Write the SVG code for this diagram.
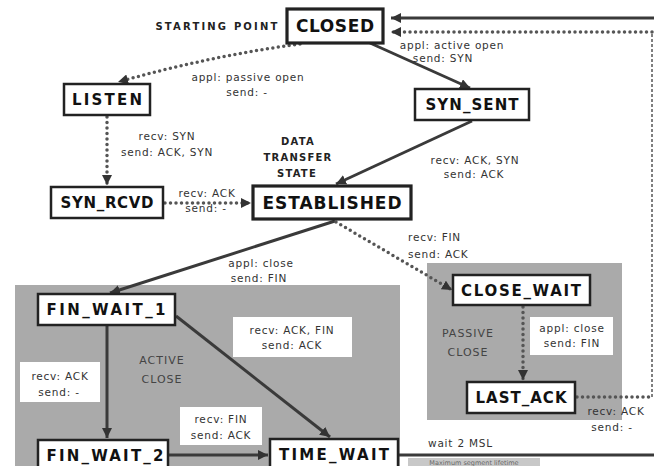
<svg xmlns="http://www.w3.org/2000/svg" width="654" height="466" viewBox="0 0 654 466">
<style>
.node rect{fill:#fff;stroke:#222;stroke-width:2.5}
.big rect{stroke-width:3.2}
.nt{font-family:"DejaVu Sans",sans-serif;font-weight:bold;font-size:15px;fill:#111;text-anchor:middle}
.big .nt{font-size:17px}
.lbl{font-family:"DejaVu Sans",sans-serif;font-size:10.5px;fill:#333;text-anchor:middle;letter-spacing:0.8px}
.lbl.st{text-anchor:start}
.cap{font-family:"DejaVu Sans",sans-serif;font-weight:bold;font-size:10px;fill:#222;text-anchor:middle;letter-spacing:1.2px}
.zone{font-family:"DejaVu Sans",sans-serif;font-size:11px;fill:#444;text-anchor:middle;letter-spacing:1px}
.solid{stroke:#3a3a3a;stroke-width:3;fill:none}
.dot{stroke:#555;stroke-width:3.5;stroke-dasharray:0 5.5;stroke-linecap:round;fill:none}
.dash{stroke:#555;stroke-width:1.5;stroke-dasharray:3 2;fill:none}
.wb{fill:#fff;stroke:none}
.gray{fill:#aaaaaa}
</style>
<defs>
<marker id="arr" markerUnits="userSpaceOnUse" markerWidth="11" markerHeight="10" refX="10" refY="5" orient="auto">
<path d="M0,0 L10,5 L0,10 Z" fill="#333" stroke="none"/>
</marker>
</defs>
<rect width="654" height="466" fill="#fff"/>
<rect class="gray" x="15" y="285" width="385" height="190"/>
<rect class="gray" x="427" y="263" width="195" height="157"/>
<text class="cap" x="217" y="30" textLength="123">STARTING POINT</text>
<text class="cap" x="298" y="145">DATA</text>
<text class="cap" x="298" y="161">TRANSFER</text>
<text class="cap" x="297" y="177">STATE</text>
<text class="zone" x="162" y="364">ACTIVE</text>
<text class="zone" x="162" y="383">CLOSE</text>
<text class="zone" x="468" y="337">PASSIVE</text>
<text class="zone" x="468" y="356">CLOSE</text>
<g id="connectors">
<path class="dot" d="M300 44 Q210 56 118 82" marker-end="url(#arr)"/>
<path class="solid" d="M370 43 L470 88" marker-end="url(#arr)"/>
<path class="dot" d="M107 117 L107 185" marker-end="url(#arr)"/>
<path class="dot" d="M165 203 L251 203" marker-end="url(#arr)"/>
<path class="solid" d="M472 121 L336 184" marker-end="url(#arr)"/>
<path class="solid" d="M335 221 L110 293" marker-end="url(#arr)"/>
<path class="dot" d="M336 222 L452 290" marker-end="url(#arr)"/>
<path class="dot" d="M523 307 L523 380" marker-end="url(#arr)"/>
<path class="dot" d="M577 397 L652 397"/>
<path class="dash" d="M652 397 L652 32"/>
<path class="dot" d="M652 32 L391 32" marker-end="url(#arr)"/>
<path class="solid" d="M107 326 L107 438" marker-end="url(#arr)"/>
<path class="solid" d="M176 316 L330 437" marker-end="url(#arr)"/>
<path class="solid" d="M169 455 L268 455" marker-end="url(#arr)"/>
<path class="solid" d="M399 455 L654 455"/>
<path class="solid" d="M654 18 L391 18" marker-end="url(#arr)"/>
<rect x="408" y="458" width="132" height="8" fill="#c8c8c8"/>
<text x="474" y="465" font-family="DejaVu Sans, sans-serif" font-size="6.5" fill="#666" text-anchor="middle">Maximum segment lifetime</text>
<text class="lbl" x="248" y="81">appl: passive open</text>
<text class="lbl" x="247" y="96">send: -</text>
<text class="lbl" x="452" y="49">appl: active open</text>
<text class="lbl" x="443" y="62">send: SYN</text>
<text class="lbl" x="167" y="140">recv: SYN</text>
<text class="lbl" x="167" y="156">send: ACK, SYN</text>
<text class="lbl" x="207" y="197">recv: ACK</text>
<text class="lbl" x="206" y="212">send: -</text>
<text class="lbl" x="475" y="164">recv: ACK, SYN</text>
<text class="lbl" x="474" y="178">send: ACK</text>
<text class="lbl st" x="408" y="241">recv: FIN</text>
<text class="lbl st" x="408" y="258">send: ACK</text>
<text class="lbl" x="261" y="267">appl: close</text>
<text class="lbl" x="259" y="282">send: FIN</text>
<rect class="wb" x="20" y="362" width="80" height="40"/>
<text class="lbl" x="60" y="380">recv: ACK</text>
<text class="lbl" x="59" y="396">send: -</text>
<rect class="wb" x="233" y="317" width="119" height="40"/>
<text class="lbl" x="292" y="334">recv: ACK, FIN</text>
<text class="lbl" x="292" y="349">send: ACK</text>
<rect class="wb" x="180" y="407" width="82" height="38"/>
<text class="lbl" x="221" y="423">recv: FIN</text>
<text class="lbl" x="221" y="439">send: ACK</text>
<rect class="wb" x="530" y="317" width="83" height="38"/>
<text class="lbl" x="572" y="332">appl: close</text>
<text class="lbl" x="572" y="347">send: FIN</text>
<text class="lbl" x="616" y="415">recv: ACK</text>
<text class="lbl" x="612" y="431">send: -</text>
<text class="lbl st" x="428" y="447">wait 2 MSL</text>
</g>
<g id="CLOSED" class="node big"><rect x="287" y="9" width="96" height="34"/><text class="nt" x="335" y="32" textLength="78">CLOSED</text></g>
<g id="LISTEN" class="node"><rect x="64" y="84" width="86" height="31"/><text class="nt" x="107" y="105" textLength="70">LISTEN</text></g>
<g id="SYN_SENT" class="node"><rect x="415" y="89" width="114" height="31"/><text class="nt" x="472" y="110" textLength="93">SYN_SENT</text></g>
<g id="SYN_RCVD" class="node"><rect x="51" y="187" width="112" height="31"/><text class="nt" x="107" y="208" textLength="93">SYN_RCVD</text></g>
<g id="ESTABLISHED" class="node big"><rect x="253" y="186" width="158" height="33"/><text class="nt" x="332" y="209" textLength="139">ESTABLISHED</text></g>
<g id="CLOSE_WAIT" class="node"><rect x="453" y="275" width="137" height="30"/><text class="nt" x="521" y="296" textLength="120">CLOSE_WAIT</text></g>
<g id="LAST_ACK" class="node"><rect x="467" y="382" width="108" height="31"/><text class="nt" x="521" y="403" textLength="91">LAST_ACK</text></g>
<g id="FIN_WAIT_1" class="node"><rect x="38" y="294" width="137" height="31"/><text class="nt" x="106" y="315" textLength="119">FIN_WAIT_1</text></g>
<g id="FIN_WAIT_2" class="node"><rect x="38" y="440" width="130" height="30"/><text class="nt" x="105" y="461" textLength="117">FIN_WAIT_2</text></g>
<g id="TIME_WAIT" class="node"><rect x="270" y="439" width="128" height="30"/><text class="nt" x="334" y="460" textLength="110">TIME_WAIT</text></g>
</svg>
